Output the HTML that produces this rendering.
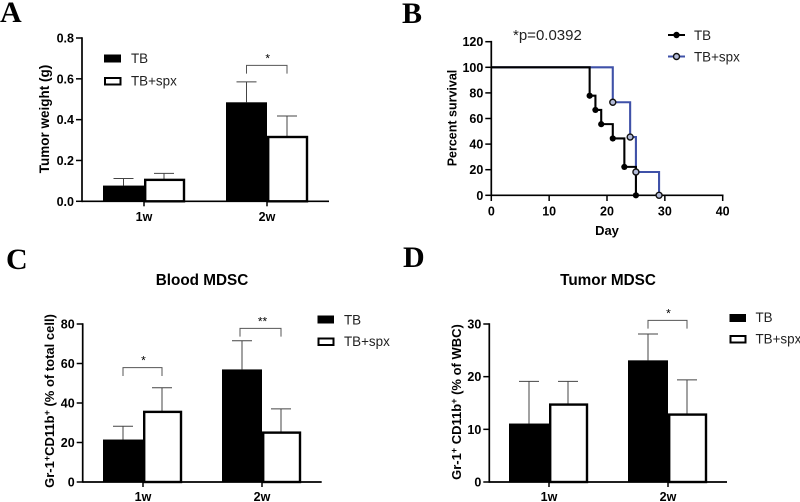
<!DOCTYPE html>
<html lang="en">
<head>
<meta charset="utf-8">
<title>Tumor and MDSC charts</title>
<style>
html,body{margin:0;padding:0;background:#fff;}
svg{display:block;filter:blur(0.3px);}
text{font-family:"Liberation Sans",sans-serif;fill:#000;}
.panel{font-family:"Liberation Serif",serif;font-weight:bold;font-size:30px;fill:#000;}
.tick{font-weight:bold;font-size:12.5px;}
.axt{font-weight:bold;font-size:13px;}
.leg{font-size:13.4px;fill:#222;}
.ttl{font-weight:bold;font-size:15.3px;}
</style>
</head>
<body>
<svg id="fig" xmlns="http://www.w3.org/2000/svg" width="800" height="502" viewBox="0 0 800 502">
  <rect width="800" height="502" fill="#fff"/>

  <g id="chart-a">
    <text class="panel" x="0" y="22">A</text>
    <text class="axt" style="font-size:13.5px" transform="translate(49,119) rotate(-90)" text-anchor="middle">Tumor weight (g)</text>
    <rect x="104" y="54.5" width="17" height="8" fill="#000"/>
    <text class="leg" x="131" y="63">TB</text>
    <rect x="105" y="78" width="15.5" height="6.5" fill="#fff" stroke="#000" stroke-width="2"/>
    <text class="leg" x="131" y="85.5">TB+spx</text>
  </g>

  <g id="chart-b">
    <text class="panel" x="402" y="23">B</text>
    <text x="513" y="40" font-size="15" style="fill:#222">*p=0.0392</text>
    <text class="axt" style="font-size:12.5px" transform="translate(456.5,118) rotate(-90)" text-anchor="middle">Percent survival</text>
    <text class="axt" x="607" y="235" text-anchor="middle">Day</text>
    <line x1="668" x2="685" y1="35" y2="35" stroke="#000" stroke-width="2.1"/>
    <circle cx="676.5" cy="35" r="3.2" fill="#000"/>
    <text class="leg" x="694" y="40">TB</text>
    <line x1="668" x2="685" y1="56.5" y2="56.5" stroke="#3f51a8" stroke-width="2.1"/>
    <circle cx="676.5" cy="56.5" r="3" fill="#b4bcd8" stroke="#111" stroke-width="1.4"/>
    <text class="leg" x="694" y="61.5">TB+spx</text>
  </g>

  <g id="chart-c">
    <text class="panel" x="6" y="269">C</text>
    <text class="ttl" x="202" y="285" text-anchor="middle">Blood MDSC</text>
    <text class="axt" transform="translate(54,401) rotate(-90)" text-anchor="middle">Gr-1<tspan font-size="9" dy="-4">+</tspan><tspan dy="4">CD11b</tspan><tspan font-size="9" dy="-4">+</tspan><tspan dy="4"> (% of total cell)</tspan></text>
    <rect x="317.5" y="315.5" width="16.5" height="8" fill="#000"/>
    <text class="leg" x="344" y="324.5">TB</text>
    <rect x="318.5" y="338.5" width="15" height="6.5" fill="#fff" stroke="#000" stroke-width="2"/>
    <text class="leg" x="344" y="346">TB+spx</text>
  </g>

  <g id="chart-d">
    <text class="panel" x="403" y="267">D</text>
    <text class="ttl" x="608" y="285" text-anchor="middle">Tumor MDSC</text>
    <text class="axt" transform="translate(461,402) rotate(-90)" text-anchor="middle">Gr-1<tspan font-size="9" dy="-4">+</tspan><tspan dy="4"> CD11b</tspan><tspan font-size="9" dy="-4">+</tspan><tspan dy="4"> (% of WBC)</tspan></text>
    <rect x="729.5" y="314" width="16.5" height="8" fill="#000"/>
    <text class="leg" x="755.5" y="322">TB</text>
    <rect x="730.5" y="336" width="15" height="6.5" fill="#fff" stroke="#000" stroke-width="2"/>
    <text class="leg" x="755.5" y="343.5">TB+spx</text>
  </g>
</svg>

<script>
// ---- data ----
const weekLabels = ['1w', '2w'];

const weightTicks = ['0.0', '0.2', '0.4', '0.6', '0.8'];
const weightTB = [0.077, 0.485];
const weightSpx = [0.105, 0.315];
const weightTBErr = [0.035, 0.100];
const weightSpxErr = [0.032, 0.103];
const weightBrackets = [null, 0.666];
const weightStars = [null, '*'];

const bloodTicks = ['0', '20', '40', '60', '80'];
const bloodTB = [21.5, 57];
const bloodSpx = [35.5, 25];
const bloodTBErr = [6.7, 14.5];
const bloodSpxErr = [12.2, 12];
const bloodBrackets = [57.9, 77.8];
const bloodStars = ['*', '**'];

const tumorTicks = ['0', '10', '20', '30'];
const tumorTB = [11.1, 23.1];
const tumorSpx = [14.7, 12.8];
const tumorTBErr = [8, 5];
const tumorSpxErr = [4.4, 6.6];
const tumorBrackets = [null, 30.7];
const tumorStars = [null, '*'];

const survivalYTicks = ['0', '20', '40', '60', '80', '100', '120'];
const survivalXTicks = ['0', '10', '20', '30', '40'];
const tbDays = [17, 18, 19, 21, 23, 25];
const tbSurvival = [77.8, 66.7, 55.6, 44.4, 22.2, 0];
const spxDays = [21, 24, 25, 29];
const spxSurvival = [72.7, 45.5, 18.2, 0];

// ---- helpers ----
const NS = 'http://www.w3.org/2000/svg';
function el(parent, tag, props, txt) {
  const n = document.createElementNS(NS, tag);
  for (const k in props) n.setAttribute(k, props[k]);
  if (txt !== undefined) n.textContent = txt;
  parent.appendChild(n);
  return n;
}
function drawLine(parent, x1, y1, x2, y2, color, w, name) {
  const l = el(parent, 'line', {x1: x1, y1: y1, x2: x2, y2: y2, stroke: color, 'stroke-width': w});
  
  
  return l;
}
function drawYAxis(parent, ticks, y, axisX, top, bottom) {
  drawLine(parent, axisX, top - 0.8, axisX, bottom + 0.8, '#000', 1.7, 'y-axis');
  ticks.forEach(function (t) {
    const py = y(parseFloat(t));
    drawLine(parent, axisX - 6, py, axisX, py, '#000', 1.5, 'y-tick');
    const lab = el(parent, 'text', {class: 'tick', x: axisX - 8, y: py + 4.5, 'text-anchor': 'end'}, t);
    
    
  });
}

function barChart(c) {
  const root = document.getElementById(c.id);
  const y = function (v) { return c.y0 - (v / c.max) * (c.y0 - c.yTop); };
  const cx = function (i) { return c.firstCenter + i * c.step; };

  weekLabels.forEach(function (w, i) {
    const center = cx(i);
    const tbMid = center - c.tbWidth / 2;
    const spxMid = center + c.spxWidth / 2;

    // error bars
    [[tbMid, c.tb[i], c.tbErr[i], 'tb'], [spxMid, c.spx[i], c.spxErr[i], 'tb-spx']].forEach(function (s) {
      const topY = y(s[1] + s[2]);
      drawLine(root, s[0], y(s[1]), s[0], topY, '#444', 1, 'error-bar-' + s[3] + '-' + w);
      drawLine(root, s[0] - 10, topY, s[0] + 10, topY, '#444', 1, 'error-cap-' + s[3] + '-' + w);
    });

    // bars
    const tbBar = el(root, 'rect', {x: center - c.tbWidth, y: y(c.tb[i]), width: c.tbWidth, height: c.y0 - y(c.tb[i]), fill: '#000'});
    
    
    const spxBar = el(root, 'rect', {x: center + 1.2, y: y(c.spx[i]), width: c.spxWidth - 1.2, height: c.y0 - y(c.spx[i]), fill: '#fff', stroke: '#000', 'stroke-width': 2.4});
    
    

    // significance bracket
    if (c.brackets[i] !== null) {
      const by = y(c.brackets[i]);
      const bracket = el(root, 'path', {d: 'M' + (tbMid + c.bracketNudge[i]) + ' ' + (by + 8.3) + 'V' + by + 'H' + spxMid + 'V' + (by + 8.3), fill: 'none', stroke: '#555', 'stroke-width': 1});
      
      
      const star = el(root, 'text', {x: (tbMid + spxMid) / 2 + 1, y: by - 3, 'text-anchor': 'middle', 'font-size': 12}, c.stars[i]);
      
      
    }

    // category tick + label
    drawLine(root, center, c.y0, center, c.y0 + 5, '#000', 1.5, 'x-tick');
    const lab = el(root, 'text', {class: 'tick', x: center, y: c.labelY, 'text-anchor': 'middle'}, w);
    
    
  });

  drawYAxis(root, c.ticks, y, c.axisX, c.yTop, c.y0);
  drawLine(root, c.axisX, c.y0, c.xEnd, c.y0, '#000', 1.7, 'x-axis');
}

barChart({id: 'chart-a', tb: weightTB, spx: weightSpx, tbErr: weightTBErr, spxErr: weightSpxErr,
  brackets: weightBrackets, stars: weightStars, ticks: weightTicks, max: 0.8, y0: 201.3, yTop: 38,
  axisX: 82, xEnd: 329, firstCenter: 144, step: 123, tbWidth: 41, spxWidth: 40, labelY: 221, bracketNudge: [0, 0]});
barChart({id: 'chart-c', tb: bloodTB, spx: bloodSpx, tbErr: bloodTBErr, spxErr: bloodSpxErr,
  brackets: bloodBrackets, stars: bloodStars, ticks: bloodTicks, max: 80, y0: 482, yTop: 324,
  axisX: 82.7, xEnd: 321.7, firstCenter: 143, step: 119, tbWidth: 40, spxWidth: 38, labelY: 501, bracketNudge: [0, -2]});
barChart({id: 'chart-d', tb: tumorTB, spx: tumorSpx, tbErr: tumorTBErr, spxErr: tumorSpxErr,
  brackets: tumorBrackets, stars: tumorStars, ticks: tumorTicks, max: 30, y0: 482, yTop: 324,
  axisX: 489.3, xEnd: 727, firstCenter: 549, step: 119, tbWidth: 40, spxWidth: 38, labelY: 501, bracketNudge: [0, 0]});

// ---- survival chart ----
(function () {
  const root = document.getElementById('chart-b');
  const x = function (d) { return 491.3 + (d / 40) * (722.7 - 491.3); };
  const y = function (v) { return 195.3 - (v / 120) * (195.3 - 41.7); };

  function stepPath(days, vals) {
    let d = 'M' + x(0) + ' ' + y(100);
    days.forEach(function (day, i) { d += 'H' + x(day) + 'V' + y(vals[i]); });
    return d;
  }

  const spxCurve = el(root, 'path', {d: stepPath(spxDays, spxSurvival), fill: 'none', stroke: '#3f51a8', 'stroke-width': 2.1});
  
  
  const tbCurve = el(root, 'path', {d: stepPath(tbDays, tbSurvival), fill: 'none', stroke: '#000', 'stroke-width': 2.1});
  
  

  drawYAxis(root, survivalYTicks, y, 491.3, 41.7, 195.3);
  drawLine(root, 491.3, 195.3, 722.7 + 0.8, 195.3, '#000', 1.7, 'x-axis');
  survivalXTicks.forEach(function (t) {
    const px = x(parseFloat(t));
    drawLine(root, px, 195.3, px, 201, '#000', 1.5, 'x-tick');
    const lab = el(root, 'text', {class: 'tick', x: px, y: 215.5, 'text-anchor': 'middle'}, t);
    
    
  });

  tbDays.forEach(function (d, i) {
    const p = el(root, 'circle', {cx: x(d), cy: y(tbSurvival[i]), r: 3.1, fill: '#000'});
    
    
  });
  spxDays.forEach(function (d, i) {
    const p = el(root, 'circle', {cx: x(d), cy: y(spxSurvival[i]), r: 3, fill: '#b4bcd8', stroke: '#111', 'stroke-width': 1.4});
    
    
  });
})();
</script>
</body>
</html>
